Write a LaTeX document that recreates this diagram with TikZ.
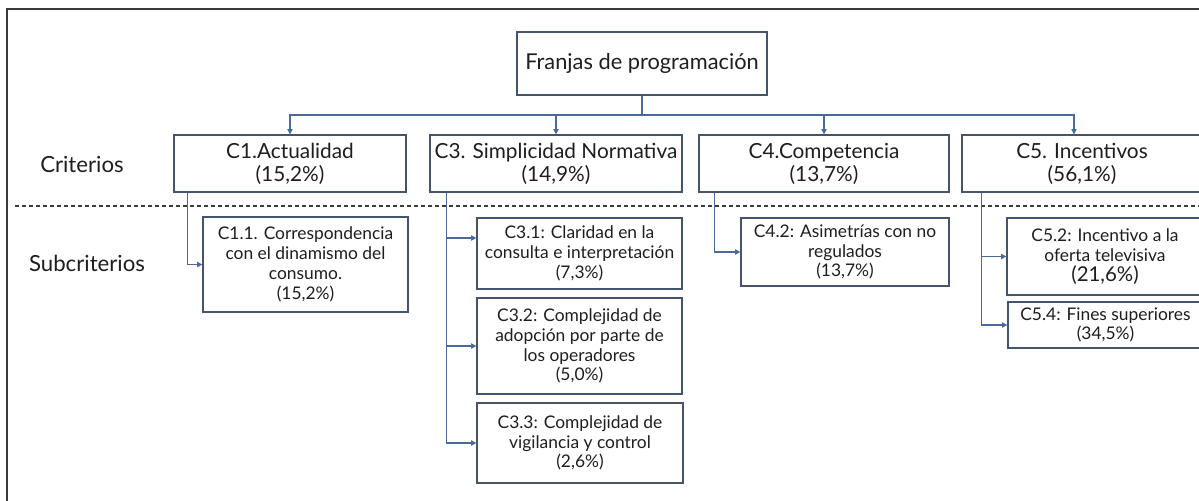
\documentclass[tikz,border=0pt]{standalone}
\usepackage{fontspec}
\setmainfont{Lato}
\usetikzlibrary{arrows.meta}
\definecolor{boxline}{HTML}{44546A}
\definecolor{linkblue}{HTML}{4A6A9C}
\definecolor{framegray}{HTML}{3A3A3A}
\definecolor{inkgray}{HTML}{1E1E1E}

\begin{document}
\begin{tikzpicture}[x=0.5pt,y=-0.5pt,
  rootbox/.style={draw=boxline,line width=0.65pt,minimum width=125pt,minimum height=31.5pt,inner sep=0pt,text=inkgray,font=\fontsize{10.9}{12}\selectfont},
  critbox/.style={draw=boxline,line width=0.65pt,minimum height=28.5pt,inner sep=0pt,align=center,text=inkgray,font=\fontsize{10.4}{11.5}\selectfont},
  subbox/.style={draw=boxline,line width=0.65pt,inner sep=0pt,align=center,text=inkgray,font=\fontsize{8.7}{9.9}\selectfont},
  rowlabel/.style={inner sep=0pt,text=inkgray,font=\fontsize{11.1}{12}\selectfont},
  link/.style={draw=linkblue,line width=0.55pt,-{Triangle[length=2.6pt,width=2.6pt]}},
  trunk/.style={draw=linkblue,line width=1pt}]
\useasboundingbox (0,0) rectangle (1199,500);
\fill[white] (0,0) rectangle (1199,500);
\clip (0,0) rectangle (1199,500);
\draw[framegray,line width=0.75pt] (7,9) rectangle (1210,510);
\draw[framegray,line width=0.55pt,dash pattern=on 2.2pt off 1.3pt] (15,206) -- (1199,206);

\draw (642,63.5) node[rootbox] (root) {Franjas de programación};
\draw (82,164) node[rowlabel] (crit) {Criterios};
\draw (87,263) node[rowlabel] (subcrit) {Subcriterios};

\draw (290,163.5) node[critbox,minimum width=116pt] (c1) {C1.Actualidad\\(15,2\%)};
\draw (556,163.5) node[critbox,minimum width=126pt] (c3) {C3. Simplicidad Normativa\\(14,9\%)};
\draw (824,163.5) node[critbox,minimum width=125pt] (c4) {C4.Competencia\\(13,7\%)};
\draw (1082,163.5) node[critbox,minimum width=120pt] (c5) {C5. Incentivos\\(56,1\%)};

\draw (305.5,264.5) node[subbox,minimum width=102.5pt,minimum height=47.5pt] (c11) {C1.1. Correspondencia\\con el dinamismo del\\consumo.\\(15,2\%)};
\draw (579.5,253.5) node[subbox,minimum width=102.5pt,minimum height=35.5pt] (c31) {C3.1: Claridad en la\\consulta e interpretación\\(7,3\%)};
\draw (579.5,346) node[subbox,minimum width=102.5pt,minimum height=48pt] (c32) {C3.2: Complejidad de\\adopción por parte de\\los operadores\\(5,0\%)};
\draw (580,443) node[subbox,minimum width=103pt,minimum height=40pt] (c33) {C3.3: Complejidad de\\vigilancia y control\\(2,6\%)};
\draw (845,252) node[subbox,minimum width=104pt,minimum height=34pt] (c42) {C4.2: Asimetrías con no\\regulados\\(13,7\%)};
\draw (1105,256.5) node[subbox,minimum width=98pt,minimum height=38.5pt] (c52) {C5.2: Incentivo a la\\oferta televisiva\\{\fontsize{10.2}{11}\selectfont(21,6\%)}};
\draw (1105.5,325) node[subbox,minimum width=97.5pt,minimum height=23pt] (c54) {C5.4: Fines superiores\\(34,5\%)};

\coordinate (bus) at (642,115);
\draw[trunk] (root.south) -- (bus);
\draw[trunk] (bus) -- (290,115) (bus) -- (1074,115);
\draw[link] (bus) -| (c1.north);
\draw[link] (bus) -| (c3.north);
\draw[link] (bus) -| (c4.north);
\draw[link] (bus) -| ([xshift=-4pt]c5.north);

\draw[link] (c1.south west) ++(14,0) |- (c11.west);
\draw[link] (c3.south west) ++(17,0) |- ([yshift=7.75pt]c31.west);
\draw[link] (c3.south west) ++(17,0) |- (c32.west);
\draw[link] (c3.south west) ++(17,0) |- (c33.west);
\draw[link] (c4.south west) ++(16,0) |- (c42.west);
\draw[link] (c5.south west) ++(20,0) |- (c52.west);
\draw[link] (c5.south west) ++(20,0) |- (c54.west);
\end{tikzpicture}
\end{document}
